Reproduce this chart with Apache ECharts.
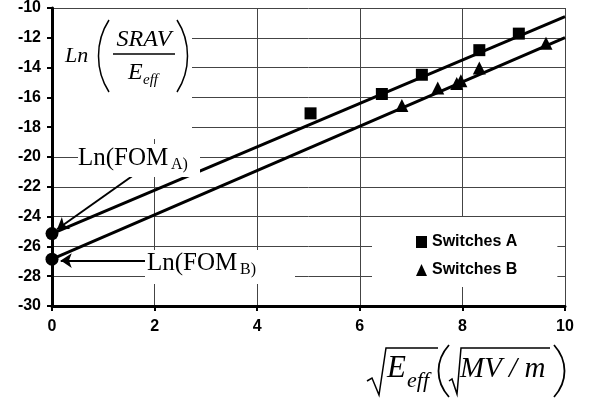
<!DOCTYPE html>
<html><head><meta charset="utf-8">
<script src="https://cdn.jsdelivr.net/npm/echarts@6/dist/echarts.min.js"></script>
<style>html,body{margin:0;padding:0;background:#fff}#c{width:589px;height:403px}</style>
</head><body><div id="c"></div>
<script>
const seriesNames = ['Switches A', 'Switches B'];
const switchesA = [[5.04,-17.07],[6.43,-15.77],[7.21,-14.48],[8.33,-12.83],[9.10,-11.72]];
const switchesB = [[6.82,-16.55],[7.52,-15.37],[7.89,-15.06],[7.97,-14.88],[8.33,-14.03],[9.63,-12.36]];
const fitA = [[0,-25.14],[10,-10.58]];
const fitB = [[0,-26.86],[10,-11.99]];
const intercepts = [[0,-25.14],[0,-26.86]];
const arrowA = [[1.58,-21.24],[0.10,-24.85]];
const arrowB = [[1.85,-26.95],[0.17,-26.95]];

const chart = echarts.init(document.getElementById('c'));
const serif = '"Liberation Serif", "Times New Roman", serif';
const sans = '"Liberation Sans", Arial, sans-serif';
const Z = 100;
function txt(x, y, text, size, italic, align) {
  return {type:'text', z:Z, style:{x:x, y:y, text:text, fill:'#000',
    font:(italic?'italic ':'')+size+'px '+serif, textAlign:align||'left', textVerticalAlign:'middle'}};
}
function paren(x1, y1, x2, y2, bulge, w) {
  return {type:'bezierCurve', z:Z, shape:{x1:x1, y1:y1, x2:x2, y2:y2,
    cpx1:x1+bulge, cpy1:y1+(y2-y1)*0.3, cpx2:x2+bulge, cpy2:y1+(y2-y1)*0.7},
    style:{fill:null, stroke:'#000', lineWidth:w||1.5}};
}
function pline(points, w) {
  return {type:'polyline', z:Z, shape:{points:points}, style:{fill:null, stroke:'#000', lineWidth:w||1.5}};
}
function wrect(x, y, w, h) {
  return {type:'rect', z:Z-1, shape:{x:x,y:y,width:w,height:h}, style:{fill:'#fff'}};
}
chart.setOption({
  animation:false,
  backgroundColor:'#fff',
  grid:{left:52, right:24, top:7, bottom:97},
  xAxis:{type:'value', min:0, max:10, interval:2,
    axisLine:{onZero:false, lineStyle:{color:'#000', width:3}},
    axisTick:{length:5, lineStyle:{color:'#000', width:2}},
    axisLabel:{color:'#000', fontFamily:sans, fontWeight:'bold', fontSize:16, margin:13},
    splitLine:{show:true, lineStyle:{color:'#444', width:1}}},
  yAxis:{type:'value', min:-30, max:-10, interval:2,
    axisLine:{show:true, onZero:false, lineStyle:{color:'#000', width:3}},
    axisTick:{show:true, length:5, lineStyle:{color:'#000', width:2}},
    axisLabel:{color:'#000', fontFamily:sans, fontWeight:'bold', fontSize:16, margin:11},
    splitLine:{show:true, lineStyle:{color:'#444', width:1}}},
  legend:{data:seriesNames, orient:'vertical', left:372, top:217,
    padding:[17,40,9,44], backgroundColor:'#fff', itemWidth:11, itemHeight:12, itemGap:12,
    itemStyle:{opacity:1},
    textStyle:{color:'#000', fontFamily:sans, fontWeight:'bold', fontSize:16}},
  series:[
    {name:'fitA', type:'line', data:fitA, showSymbol:false, silent:true,
      lineStyle:{color:'#000', width:3}, z:3},
    {name:'fitB', type:'line', data:fitB, showSymbol:false, silent:true,
      lineStyle:{color:'#000', width:3}, z:3},
    {name:seriesNames[0], type:'scatter', data:switchesA, symbol:'rect', symbolSize:12,
      itemStyle:{color:'#000', opacity:1}, z:4},
    {name:seriesNames[1], type:'scatter', data:switchesB, symbol:'triangle', symbolSize:13,
      itemStyle:{color:'#000', opacity:1}, z:4},
    {name:'intercepts', type:'scatter', data:intercepts, symbol:'circle', symbolSize:13,
      clip:false, itemStyle:{color:'#000', opacity:1}, z:5,
      markLine:{silent:true, symbol:['none','arrow'], symbolSize:11, label:{show:false},
        lineStyle:{color:'#000', width:2, type:'solid'},
        data:[[{coord:arrowA[0]},{coord:arrowA[1]}],[{coord:arrowB[0]},{coord:arrowB[1]}]]}}
  ],
  graphic:[
    wrect(54, 9, 138, 130),
    txt(65, 56, 'Ln', 22, true),
    paren(109, 20, 109, 92, -14, 1.5),
    paren(177, 20, 177, 92, 14, 1.5),
    txt(144, 40, 'SRAV', 24, true, 'center'),
    {type:'line', z:Z, shape:{x1:113,y1:54,x2:175,y2:54}, style:{stroke:'#000', lineWidth:1.5}},
    txt(128, 73, 'E', 24, true),
    txt(143, 80, 'eff', 15, true),
    wrect(78, 144, 122, 33),
    txt(78, 158, 'Ln(FOM', 25, false),
    txt(171, 165, 'A)', 16, false),
    wrect(145, 250, 150, 34),
    txt(147, 263, 'Ln(FOM', 25, false),
    txt(240, 270, 'B)', 16, false),
    pline([[367,381],[372,378],[379,395],[386,348],[438,348]], 1.5),
    txt(387, 369, 'E', 31, true),
    txt(407, 381, 'eff', 22, true),
    paren(449, 345, 449, 397, -14, 1.8),
    pline([[449,381],[452,379],[457,394],[461,348],[550,348]], 1.5),
    txt(460, 369, 'MV / m', 29, true),
    paren(554, 345, 554, 397, 14, 1.8)
  ]
});
</script></body></html>
